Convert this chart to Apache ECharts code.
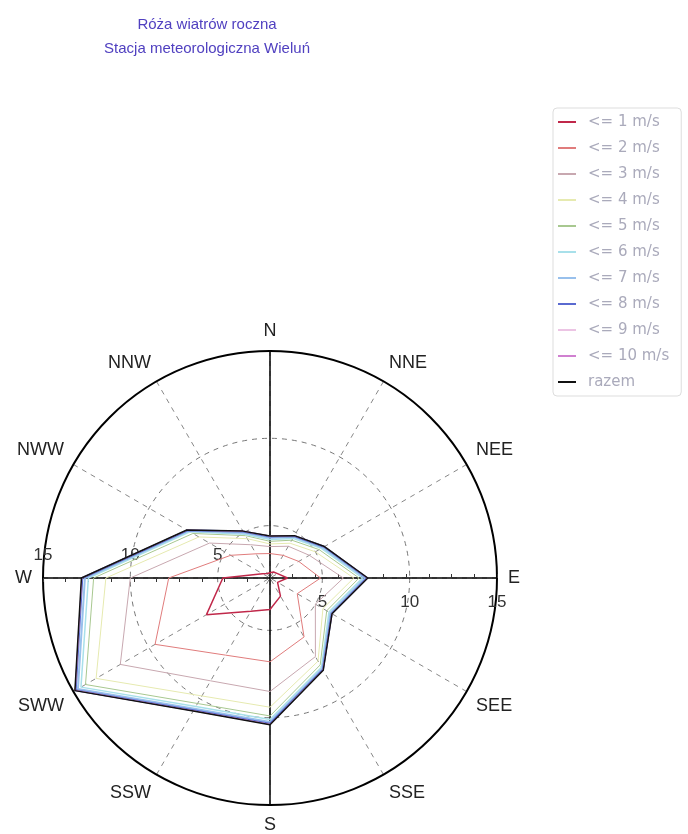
<!DOCTYPE html>
<html>
<head>
<meta charset="utf-8">
<title>Róża wiatrów</title>
<script src="https://cdn.jsdelivr.net/npm/echarts@6/dist/echarts.min.js"></script>
<style>
  html, body { margin: 0; padding: 0; background: #fff; }
  #rose { width: 688px; height: 834px; }
</style>
</head>
<body>
<div id="rose"></div>
<script>
(function() {
  'use strict';

  // kierunki (co 30 stopni od N zgodnie z zegarem)
  var dirs = ['N', 'NNE', 'NEE', 'E', 'SEE', 'SSE', 'S', 'SSW', 'SWW', 'W', 'NWW', 'NNW'];

  // wartości skumulowane dla klas prędkości
  var v1 = [2.3, 2.4, 2.5, 3.0, 2.5, 3.2, 3.8, 4.2, 6.2, 4.7, 2.5, 2.3];
  var v2 = [3.4, 3.5, 3.9, 4.9, 3.8, 5.9, 6.8, 7.1, 9.6, 7.8, 4.6, 3.6];
  var v3 = [3.8, 4.1, 4.6, 6.2, 5.0, 7.2, 8.5, 8.8, 11.9, 10.0, 6.0, 4.2];
  var v4 = [3.95, 4.3, 5.0, 6.8, 5.5, 7.5, 9.4, 9.8, 13.5, 11.4, 6.7, 4.6];
  var v5 = [4.1, 4.5, 5.25, 7.1, 5.75, 7.75, 9.9, 10.3, 14.2, 12.1, 7.1, 4.8];
  var v6 = [4.2, 4.62, 5.4, 7.3, 5.9, 7.9, 10.1, 10.5, 14.5, 12.4, 7.3, 4.9];
  var v7 = [4.3, 4.72, 5.5, 7.45, 6.0, 8.0, 10.25, 10.65, 14.7, 12.6, 7.4, 5.0];
  var v8 = [4.38, 4.78, 5.58, 7.56, 6.08, 8.06, 10.35, 10.75, 14.85, 12.75, 7.46, 5.08];
  var v9 = [4.4, 4.8, 5.6, 7.58, 6.1, 8.08, 10.38, 10.78, 14.88, 12.78, 7.48, 5.1];
  var v10 = [4.4, 4.8, 5.6, 7.58, 6.1, 8.08, 10.38, 10.78, 14.88, 12.78, 7.48, 5.1];
  var total = [4.4, 4.8, 5.6, 7.6, 6.1, 8.1, 10.4, 10.8, 14.9, 12.8, 7.5, 5.1];

  var names = ['<= 1 m/s', '<= 2 m/s', '<= 3 m/s', '<= 4 m/s', '<= 5 m/s', '<= 6 m/s',
    '<= 7 m/s', '<= 8 m/s', '<= 9 m/s', '<= 10 m/s', 'razem'];
  var values = [v1, v2, v3, v4, v5, v6, v7, v8, v9, v10, total];
  var colors = ['#c0284a', '#e07c7c', '#c8a8b0', '#e6eab0', '#a8c890', '#a8e0ea',
    '#98c0ec', '#5a6ad0', '#ecc4e4', '#d080d0', '#111111'];
  var widths = [1.5, 1, 1, 1, 1, 1.5, 2, 2, 1, 1, 1.5];

  // skala promienia
  var rMin = 2;
  var rMax = 15;
  var labelVals = [5, 10, 15];

  var CX = 270, CY = 578, R = 227;
  var dirFont = 'Liberation Sans';

  // kółka przerywane tylko dla 5 i 10
  var ringColors = [];
  for (var k = rMin; k <= rMax; k++) {
    ringColors.push((k === 5 || k === 10) ? '#777' : 'rgba(0,0,0,0)');
  }

  function closed(arr) {
    var d = [];
    for (var i = 0; i < arr.length; i++) {
      d.push([arr[i], i * 30]);
    }
    d.push([arr[0], 360]);
    return d;
  }

  var series = [];
  for (var s = 0; s < names.length; s++) {
    series.push({
      name: names[s],
      type: 'line',
      coordinateSystem: 'polar',
      polarIndex: 0,
      symbol: 'none',
      silent: true,
      clip: false,
      data: closed(values[s]),
      lineStyle: { color: colors[s], width: widths[s] },
      itemStyle: { color: colors[s] },
      z: 10 + s
    });
  }

  function labelFmt(v) {
    return labelVals.indexOf(Math.round(v * 100) / 100) >= 0 ? String(v) : '';
  }

  var polars = [];
  for (var p = 0; p < 6; p++) {
    polars.push({ center: [CX, CY], radius: R });
  }

  var hiddenAngle = function(idx, start) {
    return { polarIndex: idx, type: 'value', startAngle: start, show: false, min: 0, max: 360 };
  };

  var option = {
    backgroundColor: '#fff',
    animation: false,
    title: {
      text: 'Róża wiatrów roczna\nStacja meteorologiczna Wieluń',
      left: 202,
      top: 8,
      textAlign: 'center',
      textStyle: {
        fontFamily: 'Liberation Sans',
        fontSize: 15,
        fontWeight: 'normal',
        color: '#5040c0',
        lineHeight: 24
      }
    },
    legend: {
      orient: 'vertical',
      left: 553,
      top: 108,
      padding: [6, 12, 6, 5],
      itemGap: 10,
      itemWidth: 18,
      itemHeight: 2,
      icon: 'rect',
      borderColor: '#dddddd',
      borderWidth: 1,
      borderRadius: 4,
      data: names,
      textStyle: {
        fontFamily: 'DejaVu Sans',
        fontSize: 15,
        color: '#aaaabb',
        lineHeight: 16,
        padding: [0, 0, 0, 7]
      }
    },
    polar: polars,
    angleAxis: [
      {
        polarIndex: 0,
        type: 'value',
        min: 0,
        max: 360,
        interval: 30,
        startAngle: 90,
        clockwise: true,
        axisLine: { lineStyle: { color: '#000', width: 2 } },
        axisTick: { show: false },
        axisLabel: {
          margin: 11, fontFamily: dirFont, fontSize: 18, color: '#222',
          formatter: function(v) { return v >= 360 ? '' : dirs[Math.round(v / 30)]; }
        },
        splitLine: { show: true, lineStyle: { color: '#888', type: [5, 5], width: 1 } }
      },
      hiddenAngle(1, 0),
      hiddenAngle(2, 180),
      hiddenAngle(3, 270),
      hiddenAngle(4, 0),
      hiddenAngle(5, 180)
    ],
    radiusAxis: [
      {
        // N - linia ciągła + kółka 5 i 10
        polarIndex: 0,
        type: 'value',
        min: rMin,
        max: rMax,
        interval: 1,
        axisLine: { show: true, lineStyle: { color: '#000', width: 1.5 } },
        axisTick: { show: false },
        axisLabel: { show: false },
        splitLine: { show: true, lineStyle: { color: ringColors, type: [5, 5], width: 1 } }
      },
      {
        // E - linia z kreskami
        polarIndex: 1,
        type: 'value',
        min: 0,
        max: 13,
        interval: 1.3,
        axisLine: { show: true, lineStyle: { color: '#000', width: 1.5 } },
        axisTick: { show: true, length: 4, lineStyle: { color: '#333' } },
        axisLabel: { show: false },
        splitLine: { show: false }
      },
      {
        // W
        polarIndex: 2,
        type: 'value',
        min: 0,
        max: 13,
        interval: 1.3,
        axisLine: { show: true, lineStyle: { color: '#000', width: 1.5 } },
        axisTick: { show: true, length: 4, lineStyle: { color: '#333' } },
        axisLabel: { show: false },
        splitLine: { show: false }
      },
      {
        // S
        polarIndex: 3,
        type: 'value',
        min: rMin,
        max: rMax,
        axisLine: { show: true, lineStyle: { color: '#000', width: 1.5 } },
        axisTick: { show: false },
        axisLabel: { show: false },
        splitLine: { show: false }
      },
      {
        // opisy 5 10 15 pod osią E
        polarIndex: 4,
        type: 'value',
        min: rMin,
        max: rMax,
        interval: 1,
        axisLine: { show: false },
        axisTick: { show: false },
        axisLabel: {
          show: true, formatter: labelFmt, margin: -16, verticalAlign: 'top',
          fontFamily: dirFont, fontSize: 17, color: '#333'
        },
        splitLine: { show: false }
      },
      {
        // opisy nad osią W
        polarIndex: 5,
        type: 'value',
        min: rMin,
        max: rMax,
        interval: 1,
        axisLine: { show: false },
        axisTick: { show: false },
        axisLabel: {
          show: true, formatter: labelFmt, margin: -14, verticalAlign: 'bottom',
          fontFamily: dirFont, fontSize: 17, color: '#333'
        },
        splitLine: { show: false }
      }
    ],
    series: series
  };

  var chart = echarts.init(document.getElementById('rose'), null, { renderer: 'canvas' });
  chart.setOption(option);
}());
</script>
</body>
</html>
